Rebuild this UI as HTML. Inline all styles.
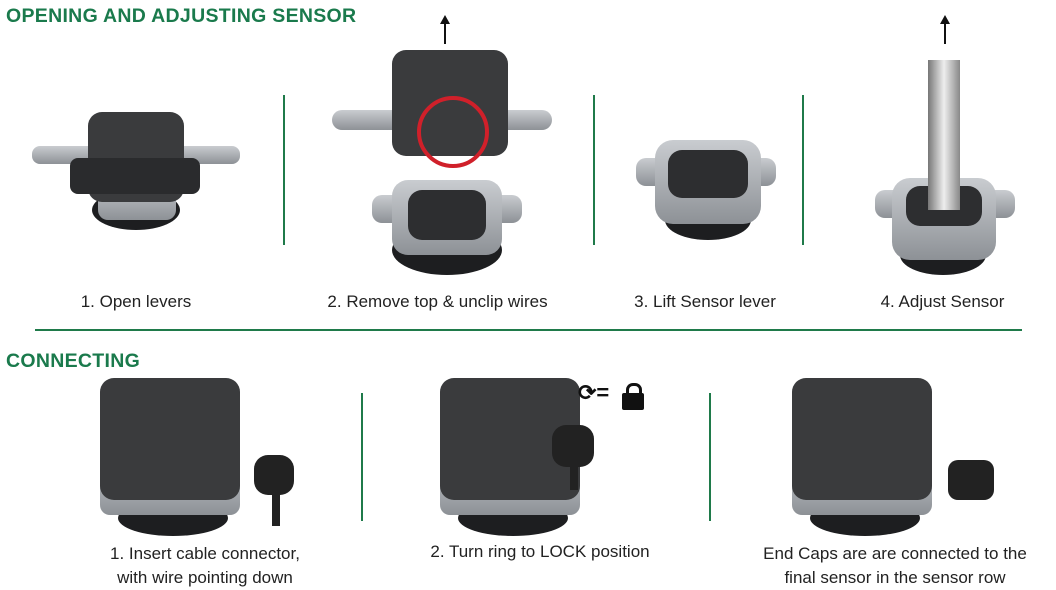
<!DOCTYPE html>
<html><head><meta charset="utf-8"><style>
body{margin:0;width:1056px;height:588px;background:#fff;position:relative;overflow:hidden;font-family:"Liberation Sans",sans-serif}
.a{position:absolute}
.h{color:#1a7a4c;font-weight:bold;font-size:19.5px;letter-spacing:.3px}
.c{font-size:17px;color:#222;text-align:center;white-space:nowrap}
.vl{position:absolute;width:2px;background:#1f7a4a}
.dk{position:absolute;background:#3a3b3d;border-radius:14px}
.sv{position:absolute;background:linear-gradient(#c9ccd0,#8d9196);border-radius:10px}
.bk{position:absolute;background:#1d1e20;border-radius:50%}
.ah{position:absolute;width:0;height:0;border-left:5px solid transparent;border-right:5px solid transparent;border-bottom:9px solid #111}
</style></head><body>
<div class="a h" style="left:6px;top:5px">OPENING AND ADJUSTING SENSOR</div>
<div class="a h" style="left:6px;top:350px">CONNECTING</div>
<div class="vl" style="left:283px;top:95px;height:150px"></div>
<div class="vl" style="left:593px;top:95px;height:150px"></div>
<div class="vl" style="left:802px;top:95px;height:150px"></div>
<div class="a" style="left:35px;top:329px;width:987px;height:2px;background:#1f7a4a"></div>
<div class="vl" style="left:361px;top:393px;height:128px"></div>
<div class="vl" style="left:709px;top:393px;height:128px"></div>

<!-- step 1 -->
<div class="sv" style="left:32px;top:146px;width:208px;height:18px;border-radius:8px"></div>
<div class="bk" style="left:92px;top:190px;width:88px;height:40px"></div>
<div class="sv" style="left:98px;top:180px;width:78px;height:40px"></div>
<div class="dk" style="left:88px;top:112px;width:96px;height:90px"></div>
<div class="dk" style="left:70px;top:158px;width:130px;height:36px;border-radius:8px;background:#2a2b2d"></div>
<!-- step 2 -->
<div class="sv" style="left:332px;top:110px;width:220px;height:20px"></div>
<div class="dk" style="left:392px;top:50px;width:116px;height:106px"></div>
<div class="a" style="left:417px;top:96px;width:64px;height:64px;border:4px solid #d0202a;border-radius:50%"></div>
<div class="bk" style="left:392px;top:225px;width:110px;height:50px"></div>
<div class="sv" style="left:372px;top:195px;width:150px;height:28px"></div>
<div class="sv" style="left:392px;top:180px;width:110px;height:75px;border-radius:16px"></div>
<div class="dk" style="left:408px;top:190px;width:78px;height:50px;background:#2d2e30"></div>
<!-- step 3 -->
<div class="sv" style="left:636px;top:158px;width:140px;height:28px"></div>
<div class="bk" style="left:665px;top:200px;width:86px;height:40px"></div>
<div class="sv" style="left:655px;top:140px;width:106px;height:84px;border-radius:18px"></div>
<div class="dk" style="left:668px;top:150px;width:80px;height:48px;background:#2d2e30"></div>
<!-- step 4 -->
<div class="sv" style="left:875px;top:190px;width:140px;height:28px"></div>
<div class="bk" style="left:900px;top:235px;width:86px;height:40px"></div>
<div class="sv" style="left:892px;top:178px;width:104px;height:82px;border-radius:18px"></div>
<div class="dk" style="left:906px;top:186px;width:76px;height:40px;background:#2d2e30"></div>
<div class="a" style="left:928px;top:60px;width:32px;height:150px;background:linear-gradient(90deg,#777,#eee,#888)"></div>
<div class="a" style="left:444px;top:22px;width:2px;height:22px;background:#111"></div>
<div class="ah" style="left:440px;top:15px"></div>
<div class="a" style="left:944px;top:22px;width:2px;height:22px;background:#111"></div>
<div class="ah" style="left:940px;top:15px"></div>

<div class="a c" style="left:50px;top:292px;width:172px">1. Open levers</div>
<div class="a c" style="left:300px;top:292px;width:275px">2. Remove top &amp; unclip wires</div>
<div class="a c" style="left:610px;top:292px;width:190px">3. Lift Sensor lever</div>
<div class="a c" style="left:855px;top:292px;width:175px">4. Adjust Sensor</div>

<!-- connecting devices -->
<div class="bk" style="left:118px;top:500px;width:110px;height:36px"></div>
<div class="sv" style="left:100px;top:455px;width:140px;height:60px"></div>
<div class="dk" style="left:100px;top:378px;width:140px;height:122px"></div>
<div class="dk" style="left:254px;top:455px;width:40px;height:40px;background:#222"></div>
<div class="a" style="left:272px;top:490px;width:8px;height:36px;background:#222"></div>

<div class="bk" style="left:458px;top:500px;width:110px;height:36px"></div>
<div class="sv" style="left:440px;top:455px;width:140px;height:60px"></div>
<div class="dk" style="left:440px;top:378px;width:140px;height:122px"></div>
<div class="dk" style="left:552px;top:425px;width:42px;height:42px;background:#222"></div>
<div class="a" style="left:570px;top:460px;width:8px;height:30px;background:#222"></div>
<div class="a" style="left:578px;top:380px;font-size:22px;font-weight:bold;color:#111">⟳=</div>
<div class="a" style="left:626px;top:383px;width:10px;height:10px;border:3px solid #111;border-bottom:none;border-radius:7px 7px 0 0"></div>
<div class="a" style="left:622px;top:393px;width:22px;height:17px;background:#111;border-radius:2px"></div>

<div class="bk" style="left:810px;top:500px;width:110px;height:36px"></div>
<div class="sv" style="left:792px;top:455px;width:140px;height:60px"></div>
<div class="dk" style="left:792px;top:378px;width:140px;height:122px"></div>
<div class="dk" style="left:948px;top:460px;width:46px;height:40px;background:#222;border-radius:10px"></div>

<div class="a c" style="left:80px;top:542px;width:250px;line-height:24px">1. Insert cable connector,<br>with wire pointing down</div>
<div class="a c" style="left:400px;top:542px;width:280px">2. Turn ring to LOCK position</div>
<div class="a c" style="left:740px;top:542px;width:310px;line-height:24px">End Caps are are connected to the<br>final sensor in the sensor row</div>
</body></html>
